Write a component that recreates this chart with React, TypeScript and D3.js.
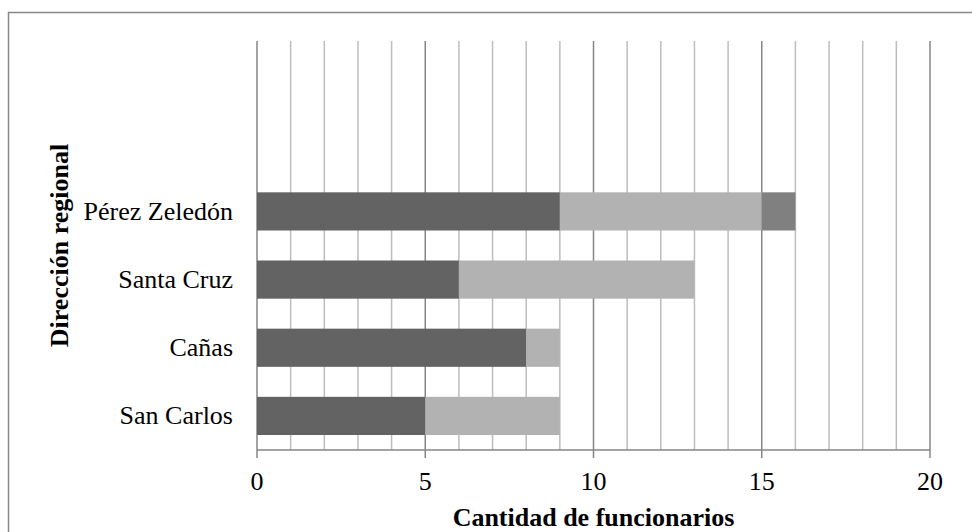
import React from "react";
import * as d3 from "d3";

const categories = ["San Carlos", "Cañas", "Santa Cruz", "Pérez Zeledón", "", ""];
const series1 = [5, 8, 6, 9, 0, 0];
const series2 = [4, 1, 7, 6, 0, 0];
const series3 = [0, 0, 0, 1, 0, 0];
const seriesColors = ["#636363", "#b2b2b2", "#808080"];
const xTicks = [0, 5, 10, 15, 20];
const xTitle = "Cantidad de funcionarios";
const yTitle = "Dirección regional";

export default function App() {
  const W = 972, H = 532;
  const left = 257, right = 930, top = 41, bottom = 450;
  const x = d3.scaleLinear().domain([0, 20]).range([left, right]);
  const idx = categories.map((_, i) => i);
  const y = d3.scaleBand<number>().domain(idx).range([bottom, top]).paddingInner(0.44).paddingOuter(0.22);
  const table = idx.map((i) => ({ i, s0: series1[i], s1: series2[i], s2: series3[i] }));
  const stack = d3.stack<any>().keys(["s0", "s1", "s2"])(table);
  const minor = d3.range(0, 21).filter((v) => v % 5 !== 0);
  const font = "'Liberation Serif', 'Times New Roman', serif";
  return (
    <svg width={W} height={H} style={{ position: "absolute", left: 0, top: 0, background: "#fff" }} fontFamily={font}>
      <rect x={8.5} y={12.5} width={990} height={560} fill="#fff" stroke="#888" strokeWidth={1.5} />
      {minor.map((v) => (
        <line key={"m" + v} x1={x(v)} x2={x(v)} y1={top} y2={bottom} stroke="#bdbdbd" strokeWidth={1.5} />
      ))}
      {xTicks.map((v) => (
        <line key={"M" + v} x1={x(v)} x2={x(v)} y1={top} y2={bottom + 8} stroke="#868686" strokeWidth={1.5} />
      ))}
      <line x1={x(0)} x2={x(20)} y1={bottom} y2={bottom} stroke="#868686" strokeWidth={1.5} />
      {stack.map((layer, si) => (
        <g key={si} fill={seriesColors[si]}>
          {layer.map((d: any, j: number) =>
            d[1] - d[0] > 0 ? (
              <rect key={j} x={x(d[0])} width={x(d[1]) - x(d[0])} y={y(d.data.i)} height={y.bandwidth()} />
            ) : null
          )}
        </g>
      ))}
      {idx.map((i) => (
        <text key={"c" + i} x={left - 24} y={(y(i) as number) + y.bandwidth() / 2} dy="0.33em" textAnchor="end" fontSize={26} fill="#000">
          {categories[i]}
        </text>
      ))}
      {xTicks.map((v) => (
        <text key={"t" + v} x={x(v)} y={490} textAnchor="middle" fontSize={26} fill="#000">{v}</text>
      ))}
      <text x={(left + right) / 2} y={526} textAnchor="middle" fontSize={26} fontWeight="bold" fill="#000">{xTitle}</text>
      <text transform={`translate(68,${(top + bottom) / 2}) rotate(-90)`} textAnchor="middle" fontSize={26} fontWeight="bold" fill="#000">{yTitle}</text>
    </svg>
  );
}
